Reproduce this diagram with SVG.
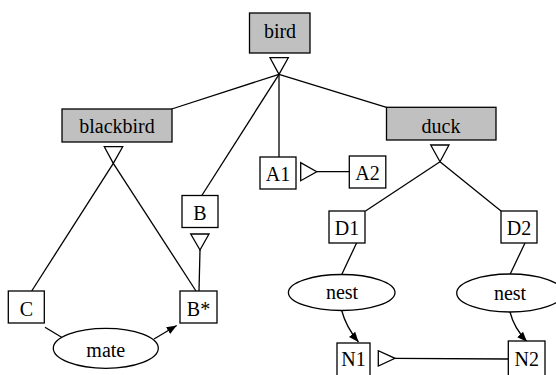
<svg xmlns="http://www.w3.org/2000/svg" width="556" height="375" viewBox="0 0 556 375">
<defs>
<style>
text{font-family:"Liberation Serif","Times New Roman",serif;font-size:20px;text-anchor:middle;fill:#000}
.box{fill:#fff;stroke:#000;stroke-width:1.3}
.cls{fill:#c0c0c0;stroke:#000;stroke-width:1.3}
.ell{fill:#fff;stroke:#000;stroke-width:1.3}
.ln{fill:none;stroke:#000;stroke-width:1.3}
.tri{fill:#fff;stroke:#000;stroke-width:1.3;stroke-linejoin:miter}
</style>
<marker id="arr" viewBox="0 0 10 10" refX="10" refY="5" markerWidth="10" markerHeight="10" markerUnits="userSpaceOnUse" orient="auto">
<path d="M0,1 L10,5 L0,9 Z" fill="#000"/>
</marker>
</defs>
<g id="connectors">
<line class="ln" x1="279" y1="74.3" x2="171.7" y2="109"/>
<line class="ln" x1="279" y1="74.3" x2="201.5" y2="196"/>
<line class="ln" x1="279" y1="74.3" x2="279" y2="157"/>
<line class="ln" x1="279" y1="74.3" x2="386.5" y2="107.3"/>
<line class="ln" x1="113.3" y1="163.3" x2="31.7" y2="291"/>
<line class="ln" x1="113.3" y1="163.3" x2="196" y2="291"/>
<line class="ln" x1="200" y1="250" x2="199" y2="291"/>
<line class="ln" x1="316.7" y1="171.7" x2="349.3" y2="171.7"/>
<line class="ln" x1="440" y1="161.7" x2="365.5" y2="211"/>
<line class="ln" x1="440" y1="161.7" x2="501" y2="211"/>
<line class="ln" x1="356.7" y1="242.7" x2="341.5" y2="275"/>
<line class="ln" x1="525" y1="243" x2="510" y2="274.5"/>
<line class="ln" x1="395" y1="358.3" x2="508.3" y2="359"/>
<line class="ln" x1="45" y1="327.3" x2="62" y2="337.5"/>
<path class="ln" d="M154,339 L176.7,325.5" marker-end="url(#arr)"/>
<path class="ln" d="M341.7,310.5 Q346,327 358.5,342" marker-end="url(#arr)"/>
<path class="ln" d="M510,312 Q514,328 527,341.7" marker-end="url(#arr)"/>
<polygon class="tri" points="270,57.7 288.3,57.7 279,74.3"/>
<polygon class="tri" points="104.3,146.7 122.7,146.7 113.3,163.3"/>
<polygon class="tri" points="430.7,145 449,145 440,161.7"/>
<polygon class="tri" points="190.7,234 209,234 200,250"/>
<polygon class="tri" points="300.7,162.7 300.7,180.7 316.7,171.7"/>
<polygon class="tri" points="378.3,350.7 378.3,366 395,358.3"/>
</g>
<g id="bird"><rect class="cls" x="249.5" y="13" width="60.5" height="40"/><text x="280" y="38">bird</text></g>
<g id="blackbird"><rect class="cls" x="62" y="109" width="110" height="33"/><text x="117" y="133">blackbird</text></g>
<g id="duck"><rect class="cls" x="386.5" y="107.3" width="109.5" height="32.7"/><text x="441" y="132.5">duck</text></g>
<g id="A1"><rect class="box" x="260" y="157" width="36" height="32"/><text x="278" y="180.5">A1</text></g>
<g id="A2"><rect class="box" x="349.3" y="156" width="36.5" height="32"/><text x="367.5" y="179.5">A2</text></g>
<g id="B"><rect class="box" x="182" y="195.5" width="36" height="32"/><text x="200" y="220">B</text></g>
<g id="D1"><rect class="box" x="329" y="211" width="36" height="32"/><text x="347" y="235">D1</text></g>
<g id="D2"><rect class="box" x="501" y="211" width="36" height="32"/><text x="519" y="235">D2</text></g>
<g id="C"><rect class="box" x="8.3" y="291" width="36" height="32"/><text x="26.3" y="316">C</text></g>
<g id="Bstar"><rect class="box" x="180" y="291" width="37" height="32"/><text x="198.5" y="316">B*</text></g>
<g id="mate"><ellipse class="ell" cx="105.8" cy="348.3" rx="52.5" ry="20"/><text x="105.8" y="357">mate</text></g>
<g id="nest1"><ellipse class="ell" cx="341.7" cy="292.5" rx="53.3" ry="18"/><text x="342" y="299.3">nest</text></g>
<g id="nest2"><ellipse class="ell" cx="510" cy="293" rx="53.3" ry="19"/><text x="510" y="300">nest</text></g>
<g id="N1"><rect class="box" x="337" y="343" width="33" height="34"/><text x="353.5" y="366">N1</text></g>
<g id="N2"><rect class="box" x="508.3" y="341" width="36.7" height="36"/><text x="526.7" y="366">N2</text></g>
</svg>
